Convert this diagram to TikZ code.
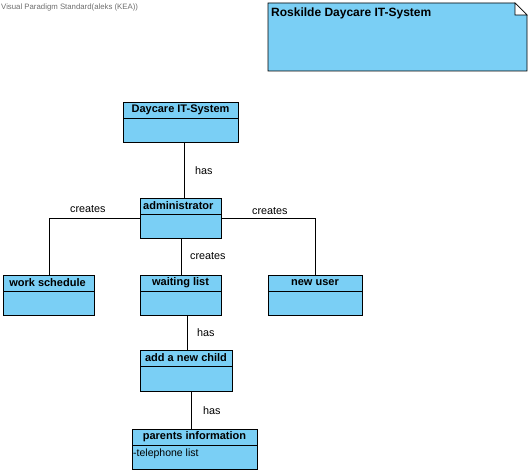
\documentclass[tikz,border=0pt]{standalone}
\usepackage{fontspec}
\setmainfont{Liberation Sans}
\definecolor{umlblue}{RGB}{122,207,245}
\definecolor{hdrgray}{RGB}{110,110,110}
\begin{document}
\begin{tikzpicture}[x=1pt,y=-1pt,
  classbox/.style={draw=black,fill=umlblue,line width=0.9pt,anchor=north west,inner sep=0pt},
  ctitle/.style={font=\fontsize{11}{13}\selectfont\bfseries,inner sep=0pt},
  conn/.style={draw=black,line width=0.8pt},
  lbl/.style={font=\fontsize{10.8}{12}\selectfont,inner sep=0pt,anchor=west}]
\useasboundingbox (0,0) rectangle (531,473);

% header
\node[anchor=west,inner sep=0pt,text=hdrgray,font=\fontsize{7.8}{9}\selectfont] (hdr) at (1,7) {Visual Paradigm Standard(aleks (KEA))};

% note
\filldraw[fill=umlblue,draw=black,line width=0.9pt] (268,3) -- (515,3) -- (527,15) -- (527,71) -- (268,71) -- cycle;
\filldraw[fill=white,draw=black,line width=0.6pt] (515,3) -- (515,15) -- (527,15) -- cycle;
\node[anchor=west,inner sep=0pt,font=\fontsize{12}{14}\selectfont\bfseries] (note) at (271,13) {Roskilde Daycare IT-System};

% classes
\node[classbox,minimum width=115pt,minimum height=40pt] (ds) at (123,102) {};
\draw[line width=0.9pt] (123,118) -- (238,118);
\node[ctitle] (dst) at (180.5,110) {Daycare IT-System};

\node[classbox,minimum width=81pt,minimum height=40pt] (adm) at (140,198) {};
\draw[line width=0.9pt] (140,214) -- (221,214);
\node[ctitle,anchor=west] (admt) at (143,206) {administrator};

\node[classbox,minimum width=91pt,minimum height=40pt] (ws) at (3,275) {};
\draw[line width=0.9pt] (3,291) -- (94,291);
\node[ctitle] (wst) at (47.5,283) {work schedule};

\node[classbox,minimum width=81pt,minimum height=40pt] (wl) at (140,275) {};
\draw[line width=0.9pt] (140,291) -- (221,291);
\node[ctitle] (wlt) at (180.5,283) {waiting list};

\node[classbox,minimum width=94pt,minimum height=40pt] (nu) at (268,275) {};
\draw[line width=0.9pt] (268,291) -- (362,291);
\node[ctitle] (nut) at (315,283) {new user};

\node[classbox,minimum width=92pt,minimum height=41pt] (ch) at (140,350) {};
\draw[line width=0.9pt] (140,366) -- (232,366);
\node[ctitle] (cht) at (186,358) {add a new child};

\node[classbox,minimum width=125pt,minimum height=40pt] (pi) at (132,429) {};
\draw[line width=0.9pt] (132,445) -- (257,445);
\node[ctitle] (pit) at (194.5,437) {parents information};
\node[anchor=west,inner sep=0pt,font=\fontsize{10.5}{12}\selectfont] (pia) at (133,454) {-telephone list};

% connectors
\draw[conn] ([xshift=3.5pt]ds.south) -- ([xshift=3.5pt]adm.north);
\node[lbl] (l1) at (195,171) {has};

\draw[conn] (adm.west) -| (ws.north);
\node[lbl] (l2) at (70,209) {creates};

\draw[conn] (adm.east) -| (nu.north);
\node[lbl] (l3) at (252,211) {creates};

\draw[conn] (adm.south) -- (wl.north);
\node[lbl] (l4) at (190,256) {creates};

\coordinate (wlc) at ([xshift=6.5pt]wl.south);
\draw[conn] (wlc) -- (wlc |- ch.north);
\node[lbl] (l5) at (197,333) {has};

\coordinate (chc) at ([xshift=5pt]ch.south);
\draw[conn] (chc) -- (chc |- pi.north);
\node[lbl] (l6) at (203,411) {has};
\end{tikzpicture}
\end{document}
